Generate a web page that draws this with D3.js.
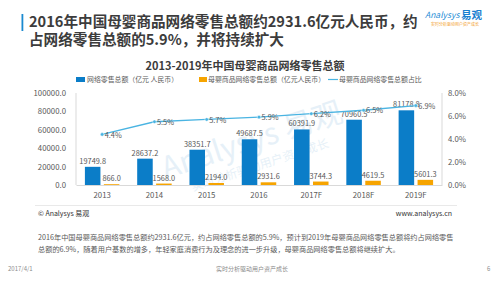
<!DOCTYPE html>
<html>
<head>
<meta charset="utf-8">
<script src="https://cdn.jsdelivr.net/npm/d3@7"></script>
<style>
	body { margin: 0; background: #ffffff; }
	svg { display: block; font-family: "Noto Sans CJK SC", "Noto Sans", sans-serif; }
</style>
</head>
<body>
<div class="chart"></div>
<script>
const years = ["2013", "2014", "2015", "2016", "2017F", "2018F", "2019F"];
const totalSales = [19749.8, 28637.2, 38351.7, 49687.5, 60391.9, 70960.5, 81178.8];
const babySales = [866.0, 1568.0, 2194.0, 2931.6, 3744.3, 4619.5, 5601.3];
const babyShare = [4.4, 5.5, 5.7, 5.9, 6.2, 6.5, 6.9];
const leftTicks = [0, 20000, 40000, 60000, 80000, 100000];
const rightTicks = [0, 2, 4, 6, 8];
const seriesNames = ["网络零售总额（亿元 人民币）", "母婴商品网络零售总额（亿元人民币）", "母婴商品网络零售总额占比"];

const titleLines = ["2016年中国母婴商品网络零售总额约2931.6亿元人民币，约", "占网络零售总额的5.9%，并将持续扩大"];
const chartTitle = "2013-2019年中国母婴商品网络零售总额";
const noteLines = [
	"2016年中国母婴商品网络零售总额约2931.6亿元，约占网络零售总额的5.9%，预计到2019年母婴商品网络零售总额将约占网络零售",
	"总额的6.9%，随着用户基数的增多，年轻家庭消费行为及理念的进一步升级，母婴商品网络零售总额将继续扩大。"
];

const W = 500, H = 281;
const blue = "#0b7dc8", orange = "#f6a400", lineBlue = "#4ab4e2";
const textGray = "#595959";

const svg = d3.select("div.chart").append("svg")
	.attr("width", W)
	.attr("height", H);

// page header
svg.append("rect").attr("x", 21.5).attr("y", 14).attr("width", 1.8).attr("height", 17).attr("fill", "#1b8ad0");
svg.selectAll("text.title").data(titleLines).join("text")
	.attr("class", "title")
	.attr("x", 29)
	.attr("y", (d, i) => 27 + i * 18)
	.attr("font-size", 14.6)
	.attr("font-weight", "bold")
	.attr("fill", "#3c3c3c")
	.text(d => d);

// logo
svg.append("text").attr("x", 425).attr("y", 18).attr("font-size", 8.5).attr("fill", "#2a8fd6")
	.attr("font-style", "italic").text("Analysys");
svg.append("text").attr("x", 461).attr("y", 18.5).attr("font-size", 10.5).attr("font-weight", "bold")
	.attr("fill", "#1a7fd0").text("易观");
svg.append("text").attr("x", 431).attr("y", 26).attr("font-size", 4).attr("fill", "#f29a1c")
	.text("实时分析驱动用户资产成长");

// scales
const x = d3.scaleBand().domain(years).range([76, 442]);
const x1 = d3.scaleBand().domain(["total", "baby"]).range([0, x.bandwidth()])
	.paddingInner(0.18).paddingOuter(0.47);
const yL = d3.scaleLinear().domain([0, 100000]).range([185, 93]);
const yR = d3.scaleLinear().domain([0, 8]).range([185, 93]);

// watermark
const wm = svg.append("g").attr("transform", "translate(255,150) rotate(-18)").attr("opacity", 0.45);
wm.append("text").attr("text-anchor", "middle").attr("font-size", 30).attr("fill", "#c9dff0").text("Analysys 易观");
wm.append("text").attr("text-anchor", "middle").attr("y", 20).attr("font-size", 12).attr("fill", "#c9dff0").text("实时分析驱动用户资产成长");

// chart title + legend
svg.append("text").attr("x", 245).attr("y", 70).attr("text-anchor", "middle")
	.attr("font-size", 11).attr("font-weight", "bold").attr("fill", "#3c3c3c").text(chartTitle);

const legend = svg.append("g").attr("font-size", 6.9).attr("fill", textGray);
legend.append("rect").attr("x", 76).attr("y", 77).attr("width", 9).attr("height", 5).attr("fill", blue);
legend.append("text").attr("x", 87).attr("y", 82.3).text(seriesNames[0]);
legend.append("rect").attr("x", 199).attr("y", 77).attr("width", 8).attr("height", 5).attr("fill", orange);
legend.append("text").attr("x", 208).attr("y", 82.3).text(seriesNames[1]);
legend.append("line").attr("x1", 328).attr("x2", 338).attr("y1", 79.5).attr("y2", 79.5)
	.attr("stroke", lineBlue).attr("stroke-width", 1.2);
legend.append("text").attr("x", 339).attr("y", 82.3).text(seriesNames[2]);

// axes
const axisL = svg.append("g").attr("transform", "translate(76,0)")
	.call(d3.axisLeft(yL).tickValues(leftTicks).tickFormat(d3.format(".1f")).tickSize(0).tickPadding(10));
const axisR = svg.append("g").attr("transform", "translate(442,0)")
	.call(d3.axisRight(yR).tickValues(rightTicks).tickFormat(d => d.toFixed(1) + "%").tickSize(0).tickPadding(6));
const axisB = svg.append("g").attr("transform", "translate(0,185)")
	.call(d3.axisBottom(x).tickSize(0).tickPadding(7));
[axisL, axisR, axisB].forEach(a => {
	a.select(".domain").attr("stroke", "#d9d9d9");
	a.selectAll("text").attr("font-size", 7.8).attr("fill", textGray).attr("font-family", "\"Noto Sans CJK SC\", sans-serif");
});
axisL.select(".domain").attr("d", "M0,93V185");
axisR.select(".domain").attr("d", "M0,93V185");

// bars
const groups = svg.append("g").selectAll("g").data(years).join("g")
	.attr("transform", d => "translate(" + x(d) + ",0)");
groups.append("rect")
	.attr("x", x1("total")).attr("width", x1.bandwidth())
	.attr("y", (d, i) => yL(totalSales[i])).attr("height", (d, i) => yL(0) - yL(totalSales[i]))
	.attr("fill", blue);
groups.append("rect")
	.attr("x", x1("baby")).attr("width", x1.bandwidth())
	.attr("y", (d, i) => yL(babySales[i])).attr("height", (d, i) => yL(0) - yL(babySales[i]))
	.attr("fill", orange);
groups.append("text")
	.attr("x", x1("total") + x1.bandwidth() / 2)
	.attr("y", (d, i) => yL(totalSales[i]) - 3)
	.attr("text-anchor", "middle").attr("font-size", 7.4).attr("fill", textGray)
	.text((d, i) => totalSales[i].toFixed(1));
groups.append("text")
	.attr("x", x1("baby") + x1.bandwidth() / 2)
	.attr("y", (d, i) => yL(babySales[i]) - 3)
	.attr("text-anchor", "middle").attr("font-size", 7.4).attr("fill", textGray)
	.text((d, i) => babySales[i].toFixed(1));

// share line
const cx = d => x(d) + x.bandwidth() / 2;
const line = d3.line().x((d, i) => cx(years[i])).y(d => yR(d));
svg.append("path").datum(babyShare)
	.attr("d", line).attr("fill", "none").attr("stroke", lineBlue).attr("stroke-width", 1.3);
svg.append("g").selectAll("circle").data(babyShare).join("circle")
	.attr("cx", (d, i) => cx(years[i])).attr("cy", d => yR(d)).attr("r", 1.8)
	.attr("fill", lineBlue).attr("stroke", "#ffffff").attr("stroke-width", 0.5);
svg.append("g").selectAll("text").data(babyShare).join("text")
	.attr("x", (d, i) => cx(years[i]) + 2.5).attr("y", d => yR(d) + 3.2)
	.attr("font-size", 7.4).attr("fill", textGray)
	.text(d => d.toFixed(1) + "%");

// source line
svg.append("line").attr("x1", 35).attr("x2", 457).attr("y1", 205.5).attr("y2", 205.5)
	.attr("stroke", "#e3e3e3").attr("stroke-width", 0.8);
svg.append("text").attr("x", 38).attr("y", 216).attr("font-size", 7).attr("fill", "#333333").text("© Analysys 易观");
svg.append("text").attr("x", 452).attr("y", 216).attr("text-anchor", "end").attr("font-size", 7).attr("fill", "#333333").text("www.analysys.cn");

// notes
svg.selectAll("text.note").data(noteLines).join("text")
	.attr("class", "note")
	.attr("x", 38)
	.attr("y", (d, i) => 239.5 + i * 12.5)
	.attr("font-size", 7.2)
	.attr("fill", textGray)
	.text(d => d);

// page footer
const foot = svg.append("g").attr("font-size", 6).attr("fill", "#8c8c8c");
foot.append("text").attr("x", 8).attr("y", 270.5).text("2017/4/1");
foot.append("text").attr("x", 252).attr("y", 270.5).attr("text-anchor", "middle").text("实时分析驱动用户资产成长");
foot.append("text").attr("x", 487).attr("y", 270.5).text("6");
</script>
</body>
</html>
